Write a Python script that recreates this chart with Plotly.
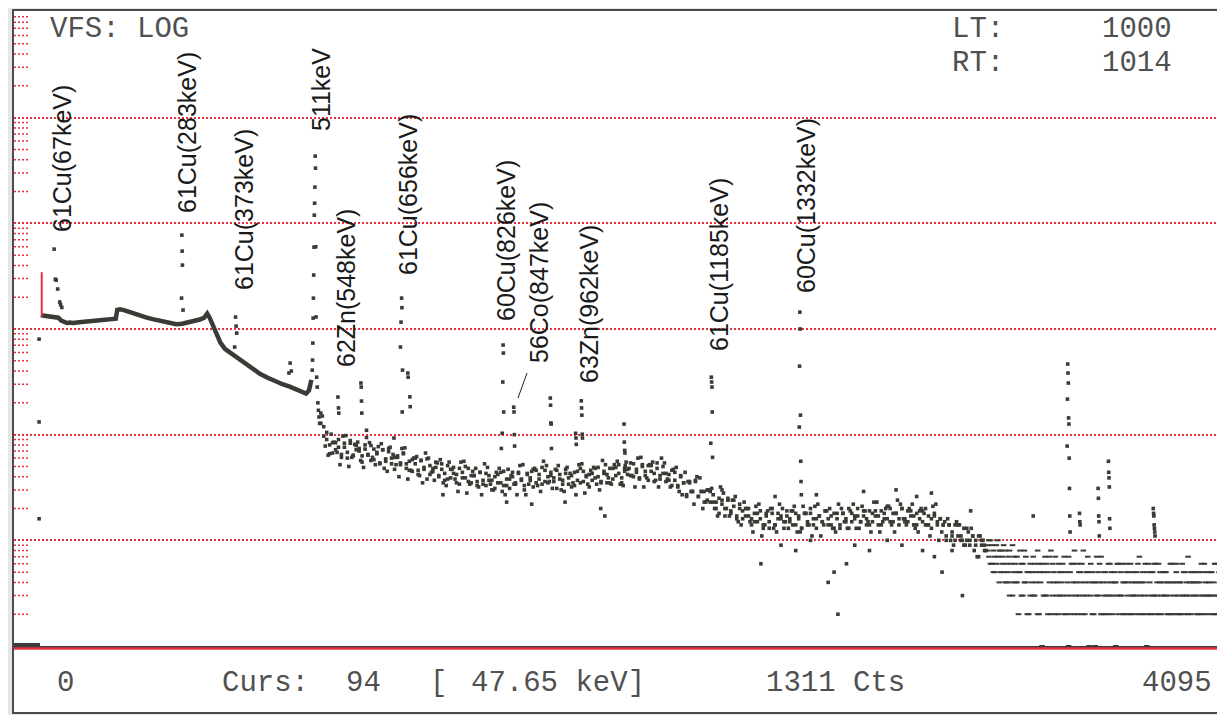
import plotly.graph_objects as go

# ---------------- data (channel / counts) ----------------
cursor_channel = 94
cursor_counts = 1311
cursor_top_counts = 3450
cursor_energy_txt = "47.65 keV]"
live_time = 1000
real_time = 1014
last_channel = 4095

zero_ch = [0, 20, 40, 60, 80, 88]
zero_cts = [1, 1, 1, 1, 1, 1]

cont_ch = [91, 100, 110, 120, 130, 140, 150, 160, 170, 180,
           190, 200, 220, 240, 260, 280, 300, 320, 335, 345,
           350, 360, 375, 390, 410, 430, 450, 470, 490, 510,
           530, 550, 570, 590, 610, 630, 645, 655, 662, 670,
           680, 690, 700, 715, 735, 760, 785, 810, 835, 860,
           885, 910, 935, 955, 975, 990, 1000, 1008]
cont_cts = [1350, 1340, 1330, 1340, 1330, 1320, 1280, 1200, 1170, 1140,
            1150, 1140, 1160, 1170, 1180, 1200, 1210, 1230, 1240, 1250,
            1520, 1540, 1500, 1450, 1380, 1330, 1280, 1240, 1200, 1170,
            1130, 1110, 1120, 1150, 1190, 1230, 1280, 1400, 1300, 1160,
            980, 850, 740, 650, 590, 530, 470, 420, 375, 345,
            320, 300, 285, 270, 255, 245, 262, 330]

band_ch = list(range(1040, 3300, 10))
band_a = [160, 97, 105, 80, 67, 84, 76, 61, 83, 68,
          88, 63, 72, 74, 63, 80, 65, 57, 73, 66,
          53, 72, 59, 74, 53, 61, 61, 52, 66, 53,
          46, 58, 53, 42, 57, 47, 59, 42, 48, 49,
          41, 53, 43, 38, 47, 43, 35, 48, 39, 50,
          36, 41, 41, 36, 44, 37, 33, 41, 37, 31,
          42, 35, 45, 33, 38, 40, 35, 44, 37, 33,
          43, 39, 32, 46, 38, 49, 36, 40, 41, 36,
          46, 38, 34, 43, 39, 32, 44, 37, 48, 36,
          41, 42, 37, 48, 40, 35, 45, 42, 35, 48,
          41, 52, 39, 45, 47, 41, 53, 44, 39, 50,
          45, 37, 51, 43, 54, 38, 43, 43, 37, 46,
          37, 32, 40, 35, 27, 36, 29, 37, 26, 29,
          29, 24, 29, 23, 20, 25, 22, 17, 24, 19,
          24, 17, 20, 19, 17, 20, 16, 15, 18, 16,
          13, 18, 15, 20, 14, 16, 17, 15, 19, 16,
          14, 18, 16, 13, 18, 15, 20, 14, 16, 17,
          15, 19, 16, 14, 18, 16, 13, 18, 15, 20,
          15, 17, 17, 15, 19, 16, 14, 18, 17, 14,
          19, 16, 21, 15, 18, 18, 16, 20, 16, 15,
          19, 17, 14, 19, 15, 20, 14, 16, 17, 15,
          16, 14, 11, 14, 12, 10, 14, 10, 13, 10,
          10, 11, 9, 11, 9, 8]
band_b = [128, 119, 90, 66, 84, 72, 90, 65, 76, 60,
          83, 64, 79, 70, 55, 73, 64, 79, 58, 68,
          54, 72, 56, 69, 60, 47, 63, 54, 67, 48,
          56, 45, 60, 46, 57, 49, 38, 51, 45, 55,
          40, 47, 37, 51, 39, 49, 42, 34, 44, 39,
          48, 35, 41, 33, 44, 34, 43, 37, 30, 40,
          35, 44, 33, 38, 31, 44, 34, 43, 38, 30,
          42, 37, 47, 35, 42, 34, 46, 35, 44, 39,
          31, 42, 37, 47, 34, 41, 33, 45, 35, 45,
          40, 32, 43, 39, 49, 36, 43, 35, 48, 38,
          49, 43, 35, 48, 42, 54, 40, 47, 38, 52,
          41, 51, 45, 36, 48, 41, 50, 36, 42, 33,
          44, 33, 41, 35, 26, 35, 29, 36, 26, 29,
          23, 30, 23, 27, 23, 18, 24, 20, 25, 18,
          21, 16, 22, 16, 20, 17, 14, 18, 15, 19,
          14, 17, 13, 18, 14, 18, 16, 13, 17, 15,
          19, 14, 17, 13, 18, 14, 18, 16, 13, 17,
          15, 19, 14, 17, 13, 18, 14, 18, 16, 13,
          18, 16, 20, 15, 17, 14, 19, 15, 19, 17,
          14, 18, 16, 20, 15, 18, 14, 20, 15, 19,
          17, 14, 18, 16, 19, 14, 17, 13, 18, 14,
          16, 14, 10, 14, 11, 14, 11, 11, 9, 13,
          9, 11, 10, 7, 10, 9]

band_ch_c = list(range(1045, 3300, 20))
band_c = [150, 64, 85, 52, 98, 61, 85, 49, 84, 52,
          82, 45, 65, 40, 75, 46, 62, 35, 60, 37,
          58, 33, 47, 29, 56, 34, 48, 27, 49, 30,
          48, 27, 41, 27, 52, 34, 48, 29, 51, 31,
          51, 29, 43, 27, 53, 34, 49, 30, 52, 34,
          56, 33, 48, 32, 61, 39, 55, 32, 54, 32,
          49, 27, 36, 22, 39, 23, 31, 17, 28, 17,
          26, 14, 20, 12, 22, 14, 20, 12, 20, 13,
          21, 12, 18, 11, 22, 14, 20, 12, 20, 13,
          22, 13, 19, 12, 23, 15, 21, 12, 22, 14,
          22, 12, 18, 11, 22, 12, 16, 9, 14, 9,
          13, 7, 10]
band_ch_d = list(range(1055, 3300, 20))
band_d = [78, 101, 68, 97, 50, 81, 57, 94, 61, 77,
          48, 76, 52, 74, 38, 60, 41, 67, 44, 54,
          35, 55, 38, 55, 28, 45, 32, 53, 34, 44,
          29, 47, 34, 51, 27, 45, 33, 56, 36, 47,
          30, 49, 35, 52, 28, 46, 34, 57, 39, 52,
          34, 55, 41, 60, 32, 52, 37, 60, 38, 47,
          29, 44, 29, 40, 20, 30, 20, 32, 20, 24,
          15, 23, 15, 21, 11, 19, 13, 22, 15, 19,
          12, 21, 14, 21, 11, 19, 13, 22, 15, 19,
          13, 21, 15, 23, 12, 20, 14, 24, 16, 20,
          13, 20, 14, 21, 10, 15, 10, 15, 10, 12,
          8, 11, 8]

right_ch = list(range(3300, 4096, 5))
right_a = [9, 7, 10, 6, 8, 5, 9, 7, 4, 8,
           6, 5, 8, 4, 7, 3, 6, 9, 5, 4,
           7, 2, 5, 6, 3, 8, 4, 5, 2, 6,
           4, 7, 3, 5, 2, 6, 4, 1, 5, 3,
           6, 2, 4, 8, 3, 5, 2, 4, 6, 3,
           5, 3, 7, 2, 4, 1, 5, 3, 6, 2,
           4, 6, 3, 5, 2, 8, 4, 3, 5, 1,
           3, 5, 2, 4, 7, 3, 6, 2, 4, 5,
           2, 4, 6, 3, 5, 2, 4, 1, 3, 6,
           5, 3, 2, 4, 6, 3, 5, 2, 4, 3,
           2, 5, 4, 7, 3, 2, 4, 6, 1, 3,
           4, 2, 5, 3, 6, 4, 2, 5, 3, 4,
           3, 5, 2, 4, 3, 6, 2, 4, 5, 3,
           2, 4, 3, 5, 2, 3, 7, 4, 2, 5,
           4, 3, 2, 5, 4, 2, 3, 6, 4, 3,
           2, 5, 3, 4, 2, 6, 3, 4, 5, 2]
right_b = [8, 10, 6, 9, 5, 7, 6, 10, 8, 5,
           7, 9, 4, 6, 5, 8, 4, 3, 7, 6,
           4, 5, 8, 3, 6, 4, 7, 2, 5, 3,
           5, 3, 6, 4, 8, 2, 5, 6, 3, 7,
           3, 5, 7, 2, 6, 4, 7, 3, 2, 5,
           4, 6, 2, 5, 3, 7, 2, 6, 4, 8,
           3, 2, 5, 4, 6, 3, 2, 5, 7, 4,
           6, 2, 4, 1, 3, 5, 4, 7, 2, 3,
           5, 3, 2, 6, 4, 3, 5, 4, 6, 2,
           3, 6, 4, 2, 5, 4, 2, 6, 3, 5,
           4, 3, 6, 2, 4, 5, 3, 2, 5, 6,
           2, 5, 3, 6, 2, 3, 6, 4, 2, 5,
           5, 3, 4, 2, 6, 2, 4, 3, 6, 2,
           4, 2, 6, 3, 5, 4, 2, 3, 5, 4,
           3, 5, 4, 2, 3, 6, 5, 2, 3, 5,
           4, 3, 5, 2, 6, 3, 2, 5, 3, 4]

peak_ch = [136, 140, 143, 148, 155, 158, 162,
           568, 569, 570, 571, 573,
           748, 751, 753, 755,
           932, 936, 940,
           1011, 1012, 1013, 1014, 1015, 1016, 1017, 1018, 1019, 1020,
           1021, 1022, 1023, 1024, 1026, 1028, 1030, 1032, 1034, 1036,
           1098, 1100, 1101,
           1176, 1177, 1178, 1179, 1195, 1288,
           1310, 1312, 1314, 1315, 1316, 1317, 1335, 1336, 1342, 1343,
           1652, 1655, 1657, 1658, 1659, 1660,
           1694, 1695, 1696, 1697,
           1818, 1819, 1820, 1821, 1822,
           1904, 1905, 1906, 1923, 1924, 1925, 1926, 1927,
           2068, 2069, 2070, 2071, 2072,
           2362, 2364, 2365, 2366, 2367, 2368,
           2662, 2663, 2664, 2665, 2666, 2667, 2668, 2669,
           3243, 3455,
           3570, 3571, 3572, 3573, 3574, 3575, 3576, 3577, 3578, 3579, 3580,
           3612, 3613, 3614,
           3675, 3676, 3677, 3678, 3679,
           3710, 3711, 3712, 3713, 3714, 3715,
           3862, 3863, 3864, 3865, 3866, 3867, 3868]
peak_cts = [5700, 2960, 2900, 2390, 1800, 1700, 1600,
            1960, 7730, 5460, 4025, 1510,
            675, 1297, 1065, 914,
            383, 476, 400,
            408, 508, 736, 1268, 1960, 3240, 5950, 11950, 15500, 22000,
            43250, 33300, 6000, 1300, 350, 282, 200, 170, 147, 128,
            227, 179, 160,
            308, 282, 208, 160, 110, 93,
            675, 1162, 1960, 1590, 164, 408, 383, 350, 228, 184,
            74, 103, 315, 705, 592, 164,
            182, 164, 100, 78,
            222, 190, 129, 126, 74,
            103, 93, 81, 209, 179, 153, 101, 93,
            126, 85, 71, 67, 51,
            83, 350, 315, 282, 164, 61,
            118, 445, 1445, 1000, 153, 56, 36, 27,
            19, 17,
            78, 217, 466, 383, 308, 144, 126, 60, 31, 17, 12,
            18, 15, 14,
            31, 25, 17, 15, 11,
            56, 44, 39, 32, 16, 13,
            20, 18, 17, 14, 13, 12, 11]

stray_ch = [85, 85, 85, 1454, 1670, 1755, 1868, 1989, 2003,
            2400, 2580, 2720, 2880, 2990, 3060, 3110,
            2532, 2600, 2650, 2700, 2760, 2780, 2793, 2822, 2850, 2900,
            2960, 3010, 3080, 3120, 3146, 3180, 3215]
stray_cts = [802, 132, 16, 27, 23, 22, 23, 20, 17,
             30, 26, 27, 29, 30, 26, 28,
             6, 9, 8, 10, 4, 5, 2, 6, 9, 8,
             10, 9, 8, 7, 5, 8, 3]

peak_names = ["61Cu(67keV)", "61Cu(283keV)", "61Cu(373keV)", "511keV",
              "62Zn(548keV)", "61Cu(656keV)", "60Cu(826keV)", "56Co(847keV)",
              "63Zn(962keV)", "61Cu(1185keV)", "60Cu(1332keV)"]

# ---------------- layout (page pixel positions; page body has an 8px margin) -----
OFF = 8
W, H = 1225 - OFF, 715 - OFF


def px(x):
    return (x - OFF) / W


def py(y):
    return 1 - (y - OFF) / H


label_pos = [(62, 159), (187, 133), (244, 210), (321, 90), (346, 288), (408, 195),
             (506, 241), (539, 283), (589, 304), (719, 265), (806, 206)]

INK = "#3a3b35"
RED = "#e5323e"

fig = go.Figure()
fig.add_trace(go.Scatter(x=zero_ch, y=zero_cts, mode="lines",
                         line=dict(color=INK, width=6), hoverinfo="skip"))
fig.add_trace(go.Scatter(x=cont_ch, y=cont_cts, mode="lines",
                         line=dict(color=INK, width=4.5), hoverinfo="skip"))
sq = dict(symbol="square", size=3.6, color=INK, line=dict(width=0))
fig.add_trace(go.Scatter(x=band_ch, y=band_a, mode="markers", marker=sq))
fig.add_trace(go.Scatter(x=band_ch, y=band_b, mode="markers", marker=sq))
fig.add_trace(go.Scatter(x=band_ch_c, y=band_c, mode="markers", marker=sq))
fig.add_trace(go.Scatter(x=band_ch_d, y=band_d, mode="markers", marker=sq))
dash = dict(symbol="line-ew", size=4, line=dict(width=2, color=INK))
fig.add_trace(go.Scatter(x=right_ch, y=right_a, mode="markers", marker=dash))
fig.add_trace(go.Scatter(x=right_ch, y=right_b, mode="markers", marker=dash))
fig.add_trace(go.Scatter(x=peak_ch, y=peak_cts, mode="markers", marker=sq))
fig.add_trace(go.Scatter(x=stray_ch, y=stray_cts, mode="markers", marker=sq))

shapes = []
# frame
shapes.append(dict(type="rect", xref="paper", yref="paper", x0=px(13), x1=px(1222),
                   y0=py(713), y1=py(10), line=dict(color="#4a4a4a", width=2),
                   fillcolor="white", layer="below"))
# minor log ticks on the left edge (shape y on a log axis is in data units here)
for d in range(0, 6):
    for k in range(2, 10):
        yv = k * 10 ** d
        shapes.append(dict(type="line", xref="paper", yref="y", x0=px(14), x1=px(30),
                           y0=yv, y1=yv, line=dict(color=RED, width=1.5, dash="2px,2px")))
# bottom red rule
shapes.append(dict(type="line", xref="paper", yref="paper", x0=px(14), x1=px(1222),
                   y0=py(648.5), y1=py(648.5), line=dict(color=RED, width=2.5)))
# cursor
shapes.append(dict(type="line", xref="x", yref="y", x0=cursor_channel, x1=cursor_channel,
                   y0=cursor_counts, y1=cursor_top_counts,
                   line=dict(color=RED, width=2)))
# leader line for 56Co label
shapes.append(dict(type="line", xref="paper", yref="paper", x0=px(527), x1=px(518),
                   y0=py(373), y1=py(398), line=dict(color="#222", width=1)))

ann = []
for name, (lx, ly) in zip(peak_names, label_pos):
    ann.append(dict(text=name, x=px(lx), y=py(ly), xref="paper", yref="paper",
                    showarrow=False, textangle=-90, xanchor="center", yanchor="middle",
                    font=dict(family="Liberation Sans, Arial", size=25, color="#1a1a1a")))

mono = dict(family="Liberation Mono, monospace", size=29, color="#505050")


def txt(s, x, y, anchor):
    ann.append(dict(text=s, x=px(x), y=py(y), xref="paper", yref="paper", showarrow=False,
                    xanchor=anchor, yanchor="middle", font=mono))


txt("VFS: LOG", 48, 30, "left")
txt("LT:", 950, 29, "left")
txt(str(live_time), 1174, 29, "right")
txt("RT:", 950, 63, "left")
txt(str(real_time), 1174, 63, "right")
txt("0", 66, 683, "center")
txt("Curs:", 220, 683, "left")
txt(str(cursor_channel), 383, 683, "right")
txt("[", 428, 683, "left")
txt(cursor_energy_txt, 647, 683, "right")
txt(f"{cursor_counts} Cts", 907, 683, "right")
txt(str(last_channel), 1214, 683, "right")

fig.update_layout(
    width=W, height=H, margin=dict(l=0, r=0, t=0, b=0), autosize=False,
    paper_bgcolor="#e6e6e6", plot_bgcolor="rgba(0,0,0,0)", showlegend=False,
    xaxis=dict(domain=[px(14), px(1222)], range=[0, last_channel], showgrid=False,
               zeroline=False, showticklabels=False, ticks="", showline=True,
               linecolor="#3a3a3a", linewidth=2, fixedrange=True),
    yaxis=dict(domain=[py(646), py(12)], type="log", range=[0, 6],
               tickvals=[10, 100, 1000, 10000, 100000], showticklabels=False, ticks="",
               showgrid=True, gridcolor=RED, gridwidth=1.5, griddash="2px,2px",
               zeroline=False, showline=False, fixedrange=True),
    shapes=shapes, annotations=ann,
)

fig.write_html("out.html")
